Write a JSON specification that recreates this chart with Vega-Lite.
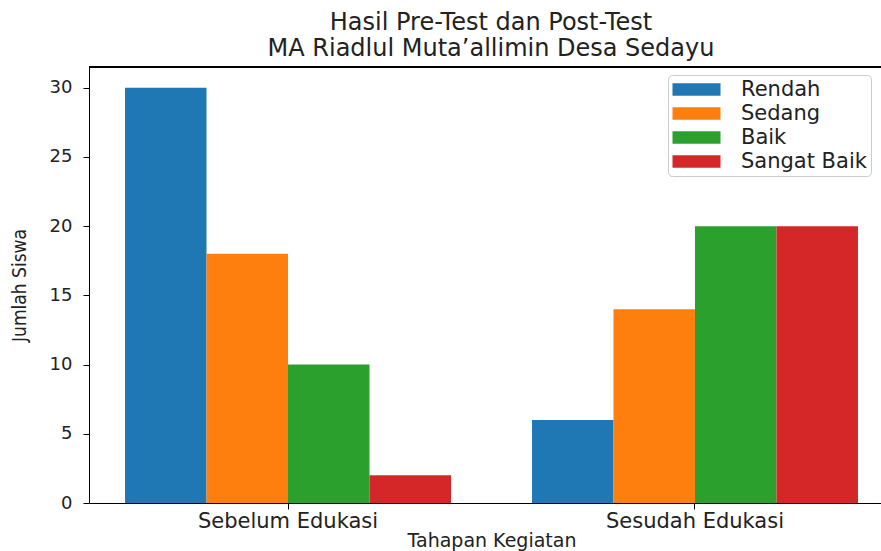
{
  "$schema": "https://vega.github.io/schema/vega-lite/v6.json",
  "width": 792,
  "height": 436,
  "autosize": {"type": "none"},
  "padding": {"left": 89, "top": 67, "right": 0, "bottom": 48},
  "background": "white",
  "title": {
    "text": ["Hasil Pre-Test dan Post-Test", "MA Riadlul Muta’allimin Desa Sedayu"],
    "font": "DejaVu Sans",
    "fontSize": 24,
    "fontWeight": "normal",
    "color": "#222222",
    "lineHeight": 26,
    "anchor": "middle",
    "dx": 6,
    "offset": 6
  },
  "config": {
    "view": {"stroke": null},
    "axis": {
      "domainColor": "black",
      "tickColor": "black",
      "labelColor": "#222222",
      "labelFont": "DejaVu Sans",
      "titleColor": "#222222",
      "titleFontWeight": "normal",
      "grid": false,
      "tickSize": 6
    }
  },
  "data": {
    "values": [
      {"tahap": "Sebelum Edukasi", "kategori": "Rendah", "jumlah": 30},
      {"tahap": "Sebelum Edukasi", "kategori": "Sedang", "jumlah": 18},
      {"tahap": "Sebelum Edukasi", "kategori": "Baik", "jumlah": 10},
      {"tahap": "Sebelum Edukasi", "kategori": "Sangat Baik", "jumlah": 2},
      {"tahap": "Sesudah Edukasi", "kategori": "Rendah", "jumlah": 6},
      {"tahap": "Sesudah Edukasi", "kategori": "Sedang", "jumlah": 14},
      {"tahap": "Sesudah Edukasi", "kategori": "Baik", "jumlah": 20},
      {"tahap": "Sesudah Edukasi", "kategori": "Sangat Baik", "jumlah": 20}
    ]
  },
  "layer": [
    {
      "mark": {"type": "bar"},
      "encoding": {
        "x": {
          "field": "tahap",
          "type": "nominal",
          "sort": ["Sebelum Edukasi", "Sesudah Edukasi"],
          "scale": {"range": [0, 805], "paddingInner": 0.199, "paddingOuter": 0.0885},
          "axis": {
            "title": "Tahapan Kegiatan",
            "labelAngle": 0,
            "labelFontSize": 21,
            "labelPadding": 1,
            "labelLimit": 0,
            "titleFont": "DejaVu Sans",
            "titleFontSize": 19,
            "titlePadding": 0
          }
        },
        "xOffset": {
          "field": "kategori",
          "type": "nominal",
          "sort": ["Rendah", "Sedang", "Baik", "Sangat Baik"],
          "scale": {"paddingInner": 0, "paddingOuter": 0}
        },
        "y": {
          "field": "jumlah",
          "type": "quantitative",
          "scale": {"domain": [0, 31.5], "nice": false, "zero": true},
          "axis": {
            "title": "Jumlah Siswa",
            "values": [0, 5, 10, 15, 20, 25, 30],
            "labelFontSize": 18,
            "labelPadding": 11,
            "titleFont": "Liberation Sans Narrow, DejaVu Sans Condensed, sans-serif",
            "titleFontSize": 19,
            "titlePadding": 20
          }
        },
        "color": {
          "field": "kategori",
          "type": "nominal",
          "sort": ["Rendah", "Sedang", "Baik", "Sangat Baik"],
          "scale": {
            "domain": ["Rendah", "Sedang", "Baik", "Sangat Baik"],
            "range": ["#1f77b4", "#ff7f0e", "#2ca02c", "#d62728"]
          },
          "legend": {
            "title": null,
            "orient": "none",
            "legendX": 579,
            "legendY": 8,
            "padding": 4,
            "fillColor": "white",
            "strokeColor": "#cccccc",
            "cornerRadius": 4,
            "symbolType": "M-1,-0.63L3.8,-0.63L3.8,0.63L-1,0.63Z",
            "symbolSize": 400,
            "symbolStrokeWidth": 0,
            "symbolOpacity": 1,
            "labelFont": "DejaVu Sans",
            "labelFontSize": 21,
            "labelColor": "#222222",
            "labelOffset": 48,
            "rowPadding": 2
          }
        }
      }
    },
    {
      "mark": {"type": "rule", "color": "black", "strokeWidth": 1},
      "encoding": {"y": {"datum": 31.5}}
    }
  ]
}
